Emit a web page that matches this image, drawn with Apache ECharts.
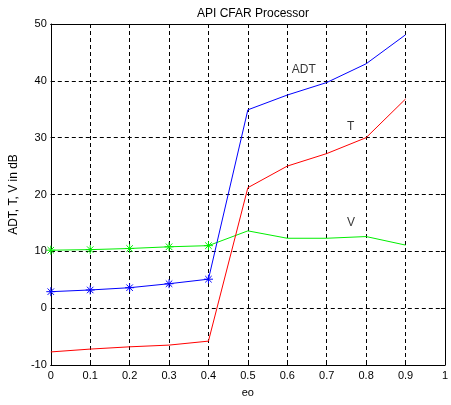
<!DOCTYPE html>
<html>
<head>
<meta charset="utf-8">
<script src="https://cdn.jsdelivr.net/npm/echarts@6/dist/echarts.min.js"></script>
<style>
  html, body { margin: 0; padding: 0; background: #ffffff; }
  #chart { width: 451px; height: 405px; }
</style>
</head>
<body>
<div id="chart"></div>
<script>
// eo values along the x axis
const eo = [0, 0.1, 0.2, 0.3, 0.4, 0.5, 0.6, 0.7, 0.8, 0.9];
// Adaptive detection threshold, threshold and V, all in dB
const adt = [2.9, 3.2, 3.6, 4.3, 5.1, 34.9, 37.5, 39.7, 43.0, 48.1];
const thr = [-7.7, -7.2, -6.8, -6.5, -5.8, 21.2, 25.0, 27.2, 30.0, 36.8];
const vv  = [10.2, 10.3, 10.5, 10.8, 11.0, 13.6, 12.3, 12.3, 12.6, 11.1];
// number of leading points drawn with an asterisk marker (ADT and V only)
const markedPoints = 5;
// curve annotations: [x, y, text]
const notes = [[0.61, 42, 'ADT'], [0.75, 32, 'T'], [0.75, 15, 'V']];
// tick values
const xTicks = [0, 0.1, 0.2, 0.3, 0.4, 0.5, 0.6, 0.7, 0.8, 0.9, 1];
const yTicks = [-10, 0, 10, 20, 30, 40, 50];

const FONT = 'Liberation Sans, Arial, sans-serif';
const star = 'path://M0,-5L0,5M-5,0L5,0M-3.6,-3.6L3.6,3.6M-3.6,3.6L3.6,-3.6';

function curve(name, ys, color, marked) {
  return {
    name: name,
    type: 'line',
    data: eo.map((x, i) => ({
      value: [x, ys[i]],
      symbol: marked && i < markedPoints ? star : 'none'
    })),
    symbolSize: 9,
    lineStyle: { color: color, width: 1 },
    itemStyle: { color: 'none', borderColor: color, borderWidth: 1 },
    emphasis: { disabled: true },
    animation: false,
    z: 3
  };
}

const fmtX = v => String(Math.round(v * 10) / 10);

const chart = echarts.init(document.getElementById('chart'), null, { renderer: 'canvas' });
chart.setOption({
  backgroundColor: '#ffffff',
  animation: false,
  title: {
    text: 'API CFAR Processor',
    left: 248, top: 3, textAlign: 'center',
    textStyle: { fontFamily: FONT, fontSize: 12, fontWeight: 'normal', color: '#000' }
  },
  grid: { left: 46, top: 24, right: 1, bottom: 40, show: false },
  xAxis: [{
    type: 'value', min: xTicks[0], max: xTicks[xTicks.length - 1], interval: 0.1,
    name: 'eo', nameLocation: 'middle', nameGap: 22,
    nameTextStyle: { fontFamily: FONT, fontSize: 11, color: '#000' },
    axisLine: { show: true, onZero: false, lineStyle: { color: '#000', width: 1 } },
    axisTick: { show: true, inside: true, length: 4, lineStyle: { color: '#000' } },
    axisLabel: { fontFamily: FONT, fontSize: 11, color: '#000', margin: 5, formatter: fmtX, showMinLabel: true, showMaxLabel: true },
    splitLine: { show: true, lineStyle: { color: '#000', type: [4, 3], width: 1 } }
  }, {
    type: 'value', position: 'top', min: xTicks[0], max: xTicks[xTicks.length - 1], interval: 0.1,
    axisLine: { show: true, onZero: false, lineStyle: { color: '#000', width: 1 } },
    axisTick: { show: true, inside: true, length: 4, lineStyle: { color: '#000' } },
    axisLabel: { show: false }, splitLine: { show: false }
  }],
  yAxis: [{
    type: 'value', min: yTicks[0], max: yTicks[yTicks.length - 1], interval: 10,
    name: 'ADT, T, V in dB', nameLocation: 'middle', nameGap: 27,
    nameTextStyle: { fontFamily: FONT, fontSize: 12, color: '#000' },
    axisLine: { show: true, onZero: false, lineStyle: { color: '#000', width: 1 } },
    axisTick: { show: true, inside: true, length: 4, lineStyle: { color: '#000' } },
    axisLabel: { fontFamily: FONT, fontSize: 11, color: '#000', margin: 4, showMinLabel: true, showMaxLabel: true },
    splitLine: { show: true, lineStyle: { color: '#000', type: [4, 3], width: 1 } }
  }, {
    type: 'value', position: 'right', min: yTicks[0], max: yTicks[yTicks.length - 1], interval: 10,
    axisLine: { show: true, onZero: false, lineStyle: { color: '#000', width: 1 } },
    axisTick: { show: true, inside: true, length: 4, lineStyle: { color: '#000' } },
    axisLabel: { show: false }, splitLine: { show: false }
  }],
  series: [
    curve('V', vv, '#00ee00', true),
    curve('T', thr, '#ff0000', false),
    curve('ADT', adt, '#0000ff', true),
    {
      name: 'notes',
      type: 'scatter',
      data: notes.map(n => ({ value: [n[0], n[1]], name: n[2] })),
      symbol: 'circle', symbolSize: 1,
      itemStyle: { color: 'rgba(0,0,0,0)' },
      label: {
        show: true, position: 'right', distance: 0,
        formatter: p => p.name,
        fontFamily: FONT, fontSize: 12, color: '#000'
      },
      emphasis: { disabled: true },
      silent: true,
      z: 4
    }
  ]
});
</script>
</body>
</html>
